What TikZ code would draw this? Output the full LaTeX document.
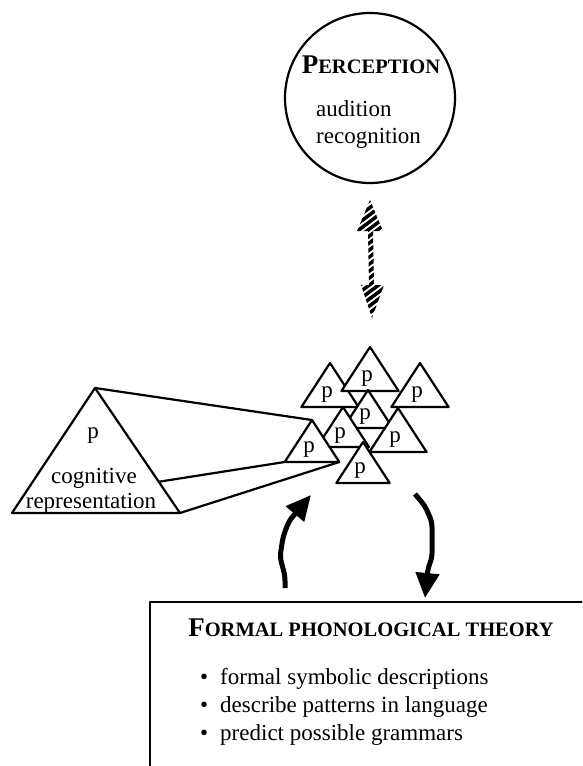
\documentclass[tikz,border=0pt]{standalone}
\usepackage{fontspec}
\setmainfont{Liberation Serif}
\usetikzlibrary{arrows.meta,calc}
\newcommand\fakesc[2]{{\bfseries\fontsize{27}{27}\selectfont #1\fontsize{20.5}{20.5}\selectfont #2}}
\newcommand\ptri[4]{\draw[tri] (#2,#3) coordinate (#1) -- ++(0.65*#4,#4) coordinate (#1r) -- ++(-1.3*#4,0) coordinate (#1l) -- cycle;
\node[lbl] (#1p) at (#2-3,#3+0.78*#4) {p};}
\begin{document}
\begin{tikzpicture}[x=1pt,y=-1pt,line join=round,font=\fontsize{23}{27}\selectfont,
tri/.style={draw,fill=white,line width=2.2pt},
lbl/.style={inner sep=0pt,anchor=base},
curvedarrow/.style={line width=5pt,rounded corners=5pt,-{Triangle[length=25pt,width=23pt]}}]
\clip (0,0) rectangle (582,766);
\node[draw,circle,line width=2.2pt,minimum size=170pt] (percep) at (370,98) {};
\node[lbl] (ptitle) at (371,73) {\fakesc{P}{ERCEPTION}};
\node[lbl,anchor=base west] (aud) at (316,116) {audition};
\node[lbl,anchor=base west] (rec) at (316,143) {recognition};
\coordinate (up) at (370,200); \coordinate (dn) at (372,318);
\begin{scope}
\clip (up) -- (383,231) -- (373,231) -- (374,285) -- (384,285) -- (dn) -- (361,285) -- (369,285) -- (368,231) -- (357,231) -- cycle;
\foreach \k in {0,...,24} \draw[line width=3.5pt] (340,195+7*\k) -- (400,150+7*\k);
\end{scope}
\draw[tri] (95,388) coordinate (big) -- (180,513) coordinate (bigr) -- (12,513) coordinate (bigl) -- cycle;
\coordinate (bigm) at ($(big)!0.75!(bigr)$);
\node[lbl] (bigp) at (93,438) {p};
\node[lbl] (cog) at (94,483) {cognitive};
\node[lbl] (repr) at (91,508) {representation};
\ptri{t1}{330}{363}{44}
\ptri{t3}{420}{363}{44}
\ptri{t2}{370}{347}{44}
\ptri{t4}{368}{390}{38}
\ptri{t5}{343}{407}{40}
\ptri{t6}{398}{408}{44}
\ptri{t7}{363}{442}{41}
\ptri{t0}{312}{420}{42}
\draw[line width=2.2pt] (big) -- (t0) (bigm) -- (t0l) (bigr) -- (t0r);
\coordinate (upfrom) at (285,588); \coordinate (upto) at (311,495);
\coordinate (dnfrom) at (415,494); \coordinate (dnto) at (425,598);
\draw[curvedarrow] (upfrom) -- (285,576) -- (280,557) -- (283,537) -- (289,521) -- (upto);
\draw[curvedarrow] (dnfrom) -- (425,506) -- (432,522) -- (432,558) -- (428,568) -- (dnto);
\draw[line width=2.5pt] (150,602) rectangle (620,800);
\node[lbl] (ftitle) at (371,636) {\fakesc{F}{ORMAL PHONOLOGICAL THEORY}};
\node[lbl,anchor=base west] (b1) at (200,684) {\textbullet\hspace{12pt}formal symbolic descriptions};
\node[lbl,anchor=base west] (b2) at (200,712) {\textbullet\hspace{12pt}describe patterns in language};
\node[lbl,anchor=base west] (b3) at (200,740) {\textbullet\hspace{12pt}predict possible grammars};
\end{tikzpicture}
\end{document}
